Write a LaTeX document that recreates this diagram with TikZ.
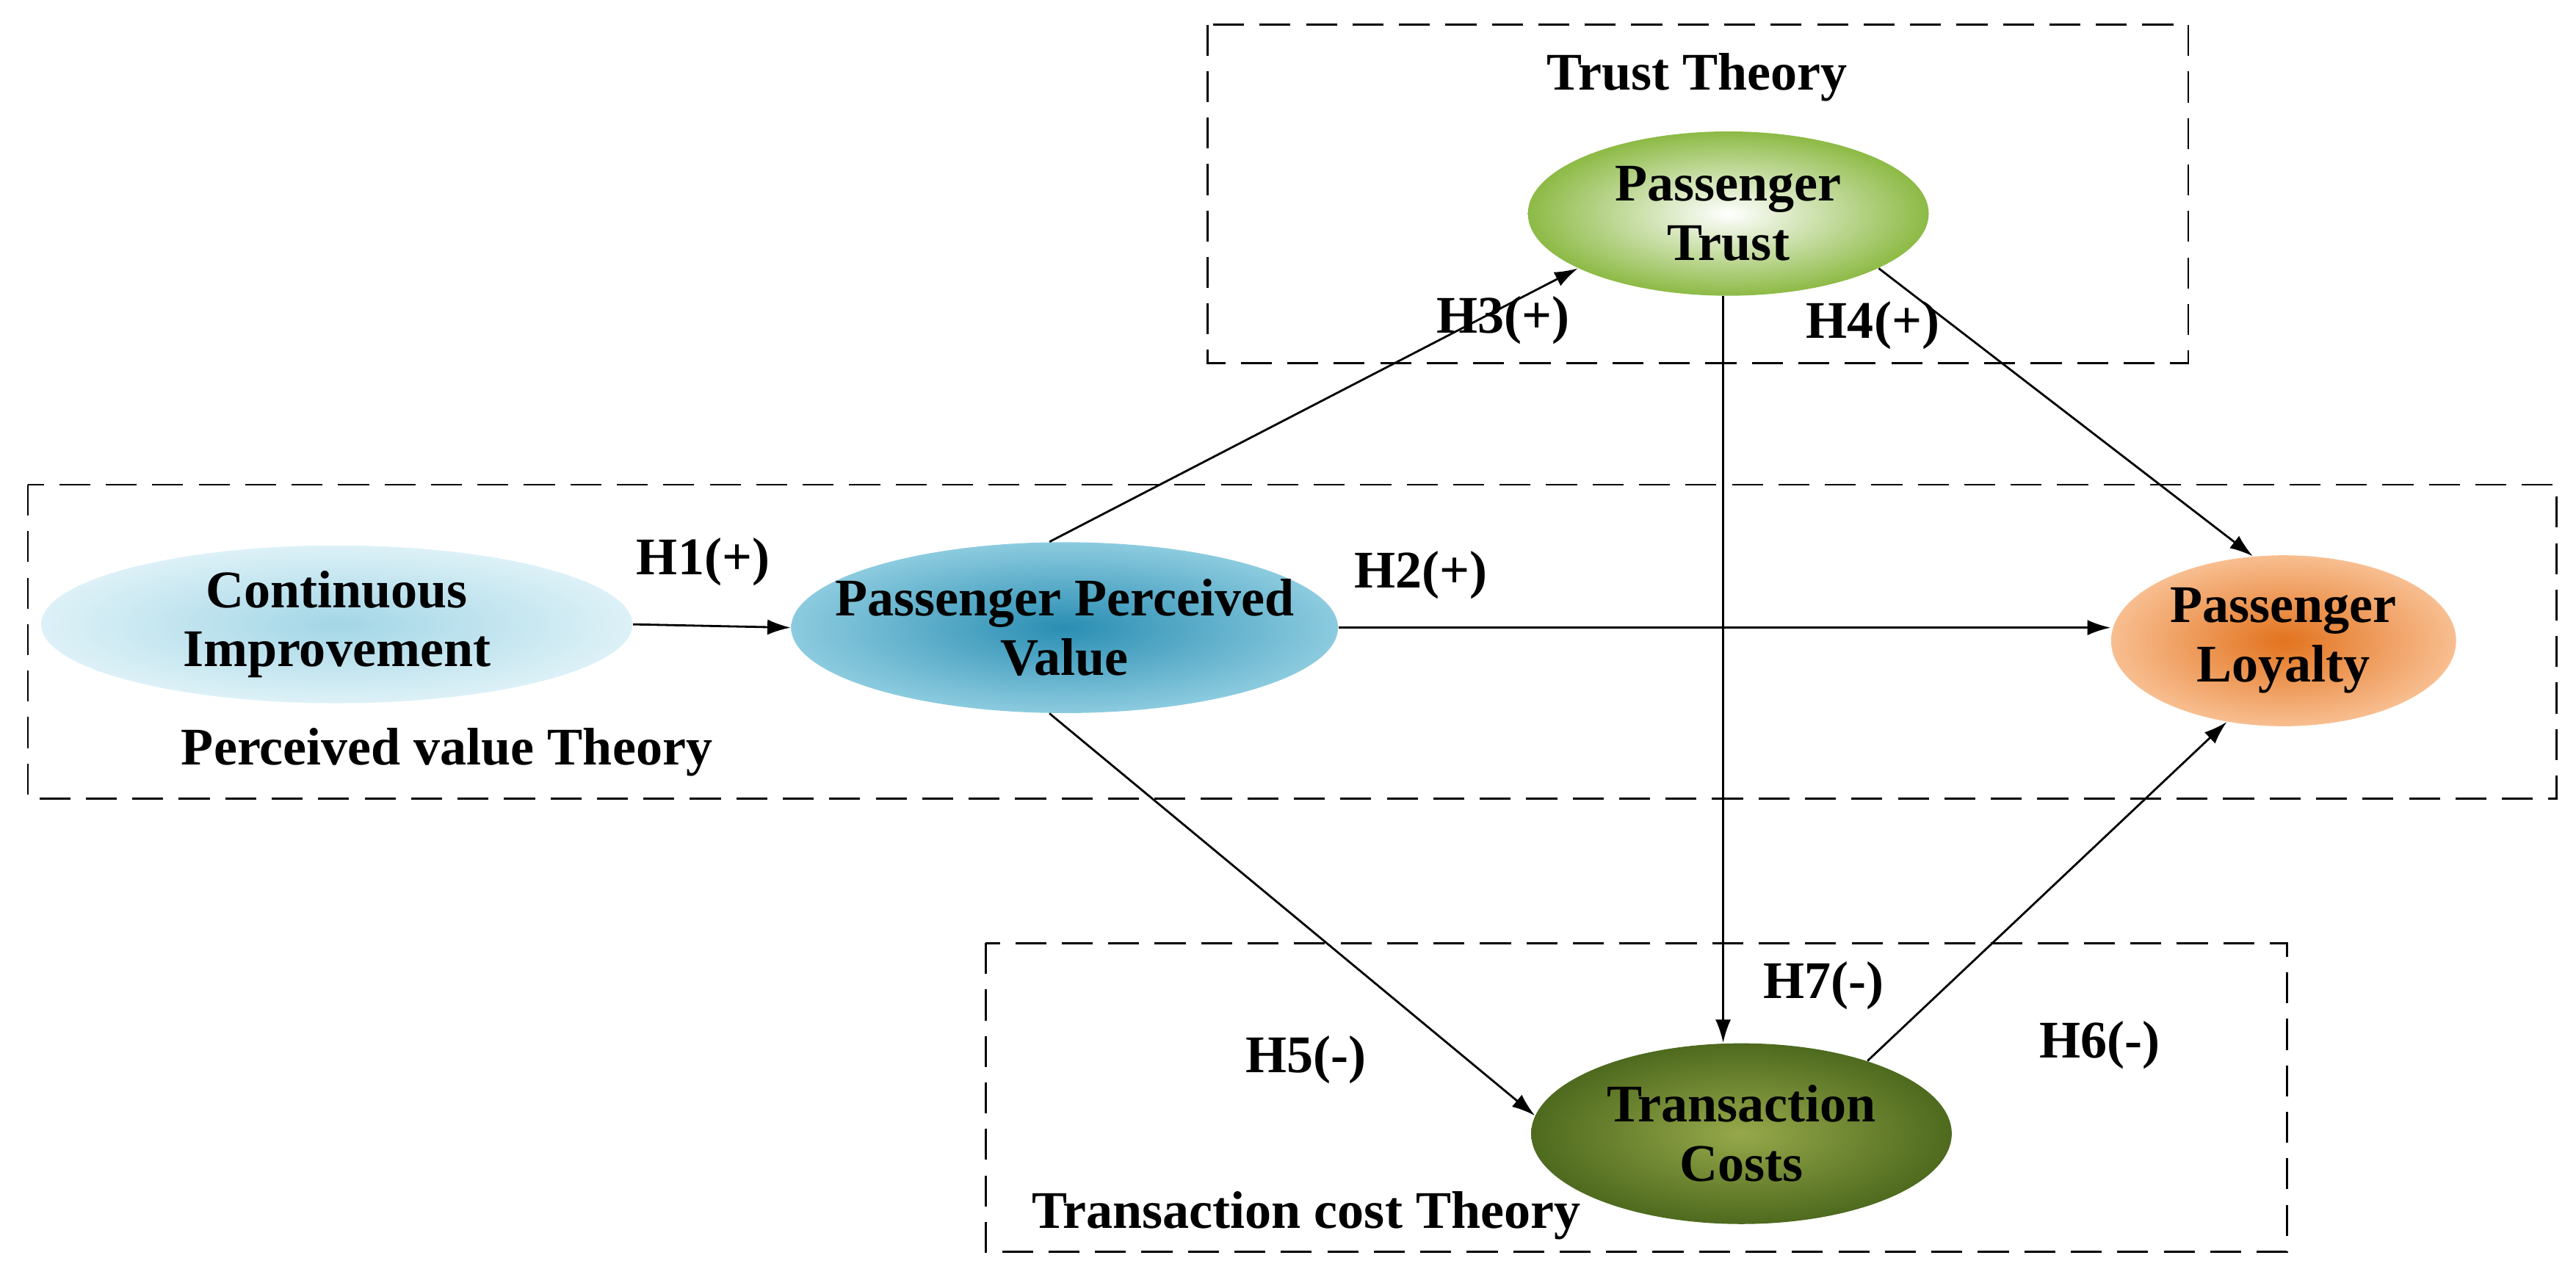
\documentclass[tikz,border=0pt]{standalone}
\usepackage{fontspec}
\setmainfont{Liberation Serif}
\usetikzlibrary{shapes.geometric,arrows.meta}
\definecolor{ptout}{HTML}{8DBA45}
\definecolor{ciin}{HTML}{A3D6E6}
\definecolor{ciout}{HTML}{DDF1F7}
\definecolor{ppvin}{HTML}{2A8EB3}
\definecolor{ppvout}{HTML}{8CCBDF}
\definecolor{plin}{HTML}{E2731E}
\definecolor{plout}{HTML}{F8BE90}
\definecolor{tcin}{HTML}{96A84A}
\definecolor{tcout}{HTML}{4E6A1E}
\begin{document}
\begin{tikzpicture}[x=0.02237cm,y=-0.02237cm,
 every node/.style={font=\fontsize{20.5}{23}\selectfont\bfseries},
 ell/.style 2 args={ellipse,draw=none,align=center,inner sep=0pt,minimum width=#1*0.02237cm,minimum height=#2*0.02237cm},
 box/.style={draw,dash pattern=on 12pt off 6pt,line width=0.8pt},
 arr/.style={-{Latex[length=9pt,width=6pt]},line width=0.8pt}]
\useasboundingbox (0,0) rectangle (1568,772);
\draw[box] (735,15) rectangle (1332,221);
\draw[box] (17,295) rectangle (1556,486);
\draw[box] (600,574) rectangle (1392,762);
\node (tt) at (1033,47) {Trust Theory};
\node (pvt) at (272,458) {Perceived value Theory};
\node (tct) at (795,740) {Transaction cost Theory};
\node[ell={244}{100},inner color=white,outer color=ptout] (pt) at (1052,130) {Passenger\\Trust};
\node[ell={360}{96},inner color=ciin,outer color=ciout] (ci) at (205,380) {Continuous\\Improvement};
\node[ell={306}{104},inner sep=-14pt,inner color=ppvin,outer color=ppvout] (ppv) at (648,382) {Passenger Perceived\\Value};
\node[ell={210}{104},inner color=plin,outer color=plout] (pl) at (1390,390) {Passenger\\Loyalty};
\node[ell={256}{110},inner color=tcin,outer color=tcout] (tc) at (1060,690) {Transaction\\Costs};
\draw[arr] (ci.east) -- (ppv.west);
\draw[arr] (ppv.east) -- (ppv.east -| pl.west);
\draw[arr] (ppv.100) -- (pt.200);
\draw[arr] (pt.-20) -- (pl.110);
\draw[arr] ([xshift=-2]pt.south) -- ([xshift=-2]pt.south |- tc.north);
\draw[arr] (ppv.-100) -- (tc.175);
\draw[arr] (tc.30) -- (pl.-125);
\node at (428,342) {H1(+)};
\node at (865,350) {H2(+)};
\node at (915,195) {H3(+)};
\node at (1140,198) {H4(+)};
\node at (795,645) {H5(-)};
\node at (1278,636) {H6(-)};
\node at (1110,600) {H7(-)};
\end{tikzpicture}
\end{document}
